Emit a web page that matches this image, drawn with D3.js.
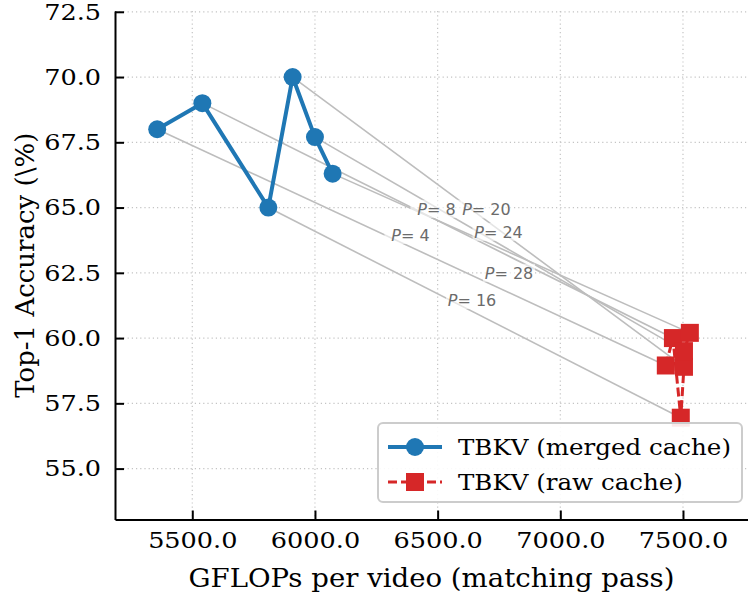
<!DOCTYPE html>
<html>
<head>
<meta charset="utf-8">
<script src="https://cdn.jsdelivr.net/npm/d3@7"></script>
<style>
  body { margin: 0; background: #fff; }
  svg { display: block; }
</style>
</head>
<body>
<svg id="chart" width="748" height="594"></svg>
<script>
// token budgets P, one entry per configuration
const budgets = [4, 8, 16, 20, 24, 28];
const mergedGflops = [5357, 5541, 5810, 5909, 6000, 6072];
const mergedAcc = [68.0, 69.0, 65.0, 70.0, 67.7, 66.3];
const rawGflops = [7430, 7459, 7491, 7504, 7504, 7528];
const rawAcc = [58.95, 60.0, 56.95, 58.9, 59.5, 60.2];
// where the P labels sit (data units)
const labelGflops = [6389, 6495, 6640, 6699, 6748, 6791];
const labelAcc = [63.95, 64.95, 61.46, 64.93, 64.07, 62.5];
const xTicks = [5500, 6000, 6500, 7000, 7500];
const yTicks = [55, 57.5, 60, 62.5, 65, 67.5, 70, 72.5];
const seriesNames = ["TBKV (merged cache)", "TBKV (raw cache)"];

const blue = "#1f77b4";
const red = "#d62728";
const serif = "'DejaVu Serif', serif";
const sans = "'DejaVu Sans', sans-serif";

const plot = { left: 115, right: 748, top: 11, bottom: 519.5 };

const x = d3.scaleLinear().domain([5185, 7765]).range([plot.left, plot.right]);
const y = d3.scaleLinear().domain([53.05, 72.53]).range([plot.bottom, plot.top]);

const svg = d3.select("#chart");

// the reference serif text runs a little wider than DejaVu Serif does here
function stretch(sel, k) {
  sel.each(function () {
    const w = this.getComputedTextLength();
    d3.select(this).attr("textLength", w * k).attr("lengthAdjust", "spacingAndGlyphs");
  });
}

const merged = budgets.map((p, i) => ({ p, gx: mergedGflops[i], acc: mergedAcc[i] }));
const raw = budgets.map((p, i) => ({ p, gx: rawGflops[i], acc: rawAcc[i] }));

// dotted grid
const grid = svg.append("g").attr("stroke", "#c4c4c4").attr("stroke-width", 1.2)
  .attr("stroke-dasharray", "1.2,3");
grid.selectAll("line.gx").data(xTicks).join("line").attr("class", "gx")
  .attr("x1", d => x(d)).attr("x2", d => x(d))
  .attr("y1", plot.top).attr("y2", plot.bottom);
grid.selectAll("line.gy").data(yTicks).join("line").attr("class", "gy")
  .attr("x1", plot.left).attr("x2", plot.right)
  .attr("y1", d => y(d)).attr("y2", d => y(d));

// connectors between merged and raw for the same P
svg.append("g").selectAll("line").data(budgets).join("line")
  .attr("x1", (d, i) => x(mergedGflops[i])).attr("y1", (d, i) => y(mergedAcc[i]))
  .attr("x2", (d, i) => x(rawGflops[i])).attr("y2", (d, i) => y(rawAcc[i]))
  .attr("stroke", "#bdbdbd").attr("stroke-width", 1.6);

// P labels
const labels = svg.append("g").selectAll("g").data(budgets).join("g")
  .attr("transform", (d, i) => `translate(${x(labelGflops[i])},${y(labelAcc[i])})`);
labels.append("rect")
  .attr("x", -26).attr("y", -9).attr("width", 52).attr("height", 18)
  .attr("fill", "#fff").attr("opacity", 0.6);
const lt = labels.append("text")
  .attr("text-anchor", "middle").attr("dy", "0.36em")
  .attr("font-family", sans).attr("font-size", 16).attr("fill", "#6b6b6b");
lt.append("tspan").attr("font-style", "italic").text("P");
lt.append("tspan").text(d => "= " + d);

// merged cache series
const line = d3.line().x(d => x(d.gx)).y(d => y(d.acc));
svg.append("path").datum(merged).attr("d", line)
  .attr("fill", "none").attr("stroke", blue).attr("stroke-width", 4)
  .attr("stroke-linejoin", "round");
svg.append("g").selectAll("circle").data(merged).join("circle")
  .attr("cx", d => x(d.gx)).attr("cy", d => y(d.acc)).attr("r", 9)
  .attr("fill", blue);

// raw cache series
svg.append("path").datum(raw).attr("d", line)
  .attr("fill", "none").attr("stroke", red).attr("stroke-width", 3)
  .attr("stroke-dasharray", "9,4");
svg.append("g").selectAll("rect").data(raw).join("rect")
  .attr("x", d => x(d.gx) - 9).attr("y", d => y(d.acc) - 9)
  .attr("width", 18).attr("height", 18).attr("fill", red);

// axes, ticks pointing inward
const xAxis = svg.append("g").attr("transform", `translate(0,${plot.bottom})`)
  .call(d3.axisBottom(x).tickValues(xTicks).tickFormat(d3.format(".1f"))
    .tickSizeInner(-9).tickSizeOuter(0).tickPadding(12));
const yAxis = svg.append("g").attr("transform", `translate(${plot.left},0)`)
  .call(d3.axisLeft(y).tickValues(yTicks).tickFormat(d3.format(".1f"))
    .tickSizeInner(-9).tickSizeOuter(0).tickPadding(14));
[xAxis, yAxis].forEach(a => {
  a.select(".domain").attr("stroke", "#000").attr("stroke-width", 2);
  a.selectAll(".tick line").attr("stroke", "#000").attr("stroke-width", 2);
  a.selectAll(".tick text").attr("font-family", serif).attr("font-size", 23)
    .attr("fill", "#000").call(stretch, 1.11);
});

svg.append("text")
  .attr("x", (plot.left + plot.right) / 2).attr("y", 578).attr("dy", "0.35em")
  .attr("text-anchor", "middle").attr("font-family", serif).attr("font-size", 26.5)
  .text("GFLOPs per video (matching pass)")
  .call(stretch, 1.04);
svg.append("text")
  .attr("transform", `translate(25,${(plot.top + plot.bottom) / 2}) rotate(-90)`)
  .attr("dy", "0.35em")
  .attr("text-anchor", "middle").attr("font-family", serif).attr("font-size", 25.5)
  .text("Top-1 Accuracy (\\%)")
  .call(stretch, 1.02);

// legend
const legend = svg.append("g").attr("transform", "translate(378,423)");
legend.append("rect").attr("width", 364).attr("height", 79).attr("rx", 5)
  .attr("fill", "#fff").attr("fill-opacity", 0.9)
  .attr("stroke", "#cccccc").attr("stroke-width", 2);
const entries = legend.selectAll("g.entry").data(seriesNames).join("g")
  .attr("class", "entry").attr("transform", (d, i) => `translate(0,${24 + i * 35})`);
entries.append("line").attr("x1", 10).attr("x2", 64)
  .attr("stroke", (d, i) => i ? red : blue)
  .attr("stroke-width", (d, i) => i ? 3 : 4)
  .attr("stroke-dasharray", (d, i) => i ? "9,4" : null);
entries.filter((d, i) => i === 0).append("circle").attr("cx", 37).attr("r", 9).attr("fill", blue);
entries.filter((d, i) => i === 1).append("rect").attr("x", 28).attr("y", -9)
  .attr("width", 18).attr("height", 18).attr("fill", red);
entries.append("text").attr("x", 80).attr("dy", "0.35em")
  .attr("font-family", serif).attr("font-size", 22.5)
  .text(d => d)
  .call(stretch, 1.09);
</script>
</body>
</html>
